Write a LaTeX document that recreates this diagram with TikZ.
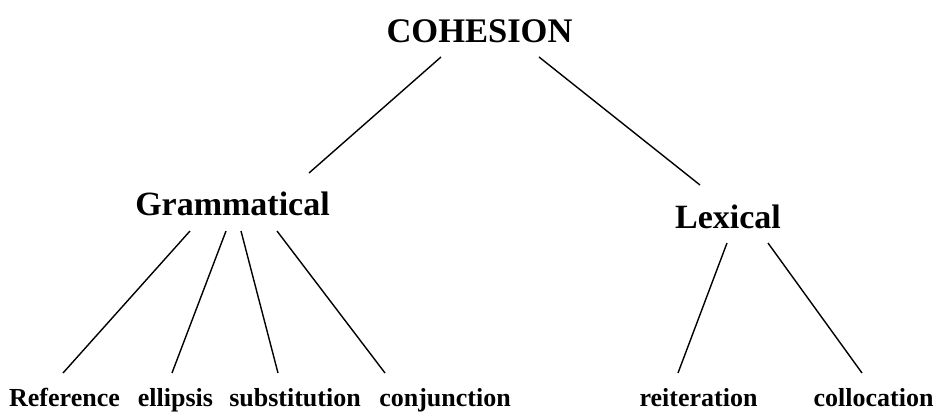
\documentclass[tikz,border=0pt]{standalone}
\usepackage{fontspec}
\setmainfont{Liberation Serif}
\begin{document}
\begin{tikzpicture}[x=1pt,y=-1pt,
  top/.style={font=\bfseries\fontsize{34.5}{40}\selectfont, anchor=base, inner sep=0pt},
  mid/.style={font=\bfseries\fontsize{34}{40}\selectfont, anchor=base, inner sep=0pt},
  leaf/.style={font=\bfseries\fontsize{26}{30}\selectfont, anchor=base, inner sep=0pt},
  edge/.style={line width=1.4pt}]
\useasboundingbox (0,0) rectangle (938,412);
\node[top] (C) at (479.5,43) {COHESION};
\node[mid] (G) at (232.5,215) {Grammatical};
\node[mid] (L) at (728,228) {Lexical};
\node[leaf] (ref) at (64.5,406) {Reference};
\node[leaf] (ell) at (175.5,406) {ellipsis};
\node[leaf] (sub) at (295,406) {substitution};
\node[leaf] (con) at (445,406) {conjunction};
\node[leaf] (rei) at (698.5,406) {reiteration};
\node[leaf] (col) at (873.5,406) {collocation};
% connector ends
\coordinate (c1) at (441,57);  \coordinate (g0) at (309,173);
\coordinate (c2) at (539,57);  \coordinate (l0) at (700,185);
\coordinate (g1) at (190,231); \coordinate (ref0) at (63,373);
\coordinate (g2) at (226,231); \coordinate (ell0) at (172,373);
\coordinate (g3) at (241,231); \coordinate (sub0) at (278,373);
\coordinate (g4) at (277,231); \coordinate (con0) at (385,373);
\coordinate (l1) at (727,243); \coordinate (rei0) at (678,373);
\coordinate (l2) at (768,243); \coordinate (col0) at (862,373);
\draw[edge] (c1) -- (g0);
\draw[edge] (c2) -- (l0);
\draw[edge] (g1) -- (ref0);
\draw[edge] (g2) -- (ell0);
\draw[edge] (g3) -- (sub0);
\draw[edge] (g4) -- (con0);
\draw[edge] (l1) -- (rei0);
\draw[edge] (l2) -- (col0);
\end{tikzpicture}
\end{document}
